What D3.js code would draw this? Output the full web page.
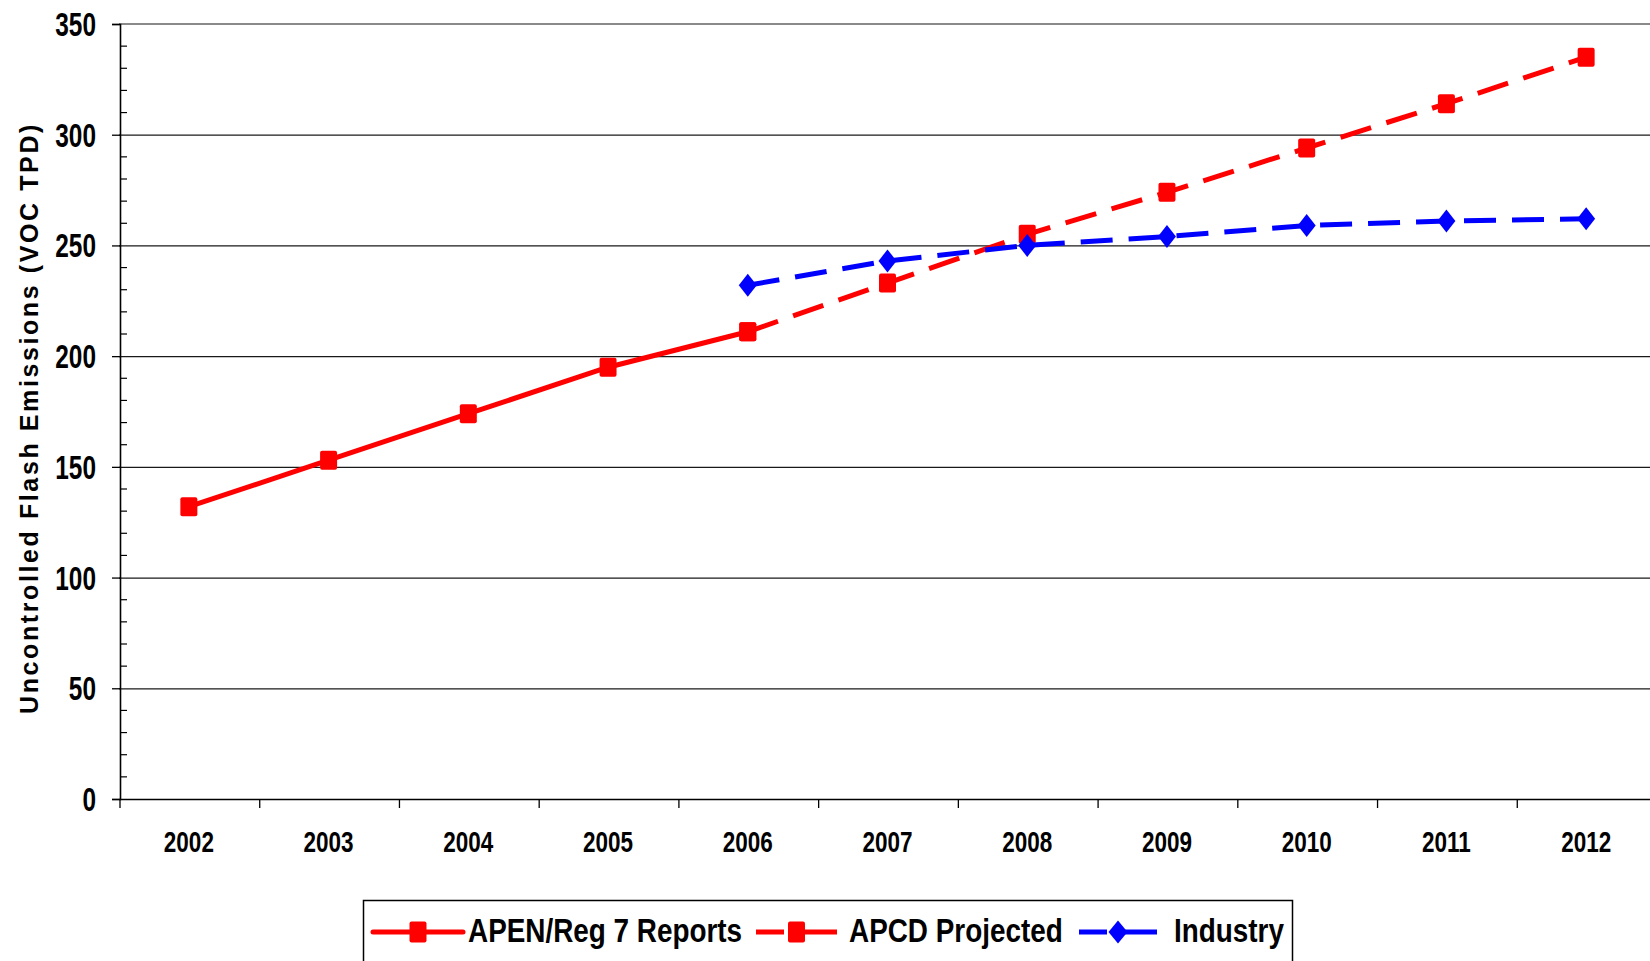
<!DOCTYPE html>
<html>
<head>
<meta charset="utf-8">
<script src="https://cdn.jsdelivr.net/npm/d3@7"></script>
<style>
  html, body { margin: 0; padding: 0; background: #fff; }
  svg { display: block; }
</style>
</head>
<body>
<div id="chart"></div>
<script>
// Data
const years = ["2002", "2003", "2004", "2005", "2006", "2007", "2008", "2009", "2010", "2011", "2012"];
const apenReports = [132, 153, 174, 195, 211, null, null, null, null, null, null];
const apcdProjected = [null, null, null, null, 211, 233, 255, 274, 294, 314, 335];
const industry = [null, null, null, null, 232, 243, 250, 254, 259, 261, 262];
const yTicks = [0, 50, 100, 150, 200, 250, 300, 350];

const legendItems = [
  { name: "APEN/Reg 7 Reports", color: "#ff0000", dash: null, marker: "square" },
  { name: "APCD Projected", color: "#ff0000", dash: "28 9 50", marker: "square" },
  { name: "Industry", color: "#0000ff", dash: "28 9 50", marker: "diamond" }
];

// Dimensions
const width = 1650;
const height = 961;
const plot = { left: 119, top: 24, bottom: 799, right: 1656 };

const font = "'Liberation Sans', Arial, sans-serif";

// Scales
const x = d3.scaleBand().domain(years).range([plot.left, plot.right]);
const y = d3.scaleLinear().domain([0, 350]).range([plot.bottom, plot.top]);
const cx = (yr) => x(yr) + x.bandwidth() / 2;

const svg = d3
  .select("#chart")
  .append("svg")
  .attr("width", width)
  .attr("height", height);

// squeezed bold text, stands in for the narrow face used in the original
function narrowText(g, tx, ty, str, size, sx, anchor) {
  return g
    .append("text")
    .attr("transform", `translate(${tx},${ty}) scale(${sx},1)`)
    .attr("text-anchor", anchor || "start")
    .style("font-family", font)
    .style("font-weight", "bold")
    .style("font-size", size + "px")
    .text(str);
}

// Horizontal gridlines
svg
  .append("g")
  .selectAll("line")
  .data(yTicks.filter((d) => d > 0 && d < 350))
  .enter()
  .append("line")
  .attr("x1", plot.left)
  .attr("x2", width)
  .attr("y1", (d) => y(d) + 0.5)
  .attr("y2", (d) => y(d) + 0.5)
  .attr("stroke", "#1a1a1a")
  .attr("stroke-width", 1.2);

// top border of plot area
svg
  .append("line")
  .attr("x1", plot.left)
  .attr("x2", width)
  .attr("y1", y(350))
  .attr("y2", y(350))
  .attr("stroke", "#8a8a8a")
  .attr("stroke-width", 2.2);

// Y axis: major ticks outside, minor ticks inside
const yAxis = svg
  .append("g")
  .attr("transform", `translate(${plot.left + 1},0)`)
  .call(d3.axisLeft(y).tickValues(yTicks).tickSize(8).tickFormat(""));
yAxis.select(".domain").attr("stroke", "#000").attr("stroke-width", 1.6);
yAxis.selectAll(".tick line").attr("stroke", "#000").attr("stroke-width", 1.3);

const minor = d3.range(0, 351, 10).filter((d) => d % 50 !== 0);
svg
  .append("g")
  .selectAll("line")
  .data(minor)
  .enter()
  .append("line")
  .attr("x1", plot.left + 1)
  .attr("x2", plot.left + 8)
  .attr("y1", (d) => y(d))
  .attr("y2", (d) => y(d))
  .attr("stroke", "#000")
  .attr("stroke-width", 1.2);

const yLabels = svg.append("g");
yTicks.forEach((d) => {
  narrowText(yLabels, 96, y(d) + 12, d, 33, 0.74, "end");
});

// X axis with ticks between categories
const xAxis = svg
  .append("g")
  .attr("transform", `translate(0,${plot.bottom})`)
  .call(d3.axisBottom(x).tickSize(0).tickFormat(""));
xAxis.select(".domain").attr("stroke", "#000").attr("stroke-width", 1.6);

svg
  .append("g")
  .selectAll("line")
  .data(years.concat(["end"]))
  .enter()
  .append("line")
  .attr("x1", (d, i) => (i < years.length ? x(d) : x.range()[1]) + 1)
  .attr("x2", (d, i) => (i < years.length ? x(d) : x.range()[1]) + 1)
  .attr("y1", plot.bottom)
  .attr("y2", plot.bottom + 9)
  .attr("stroke", "#000")
  .attr("stroke-width", 1.3);

const xLabels = svg.append("g");
years.forEach((d) => {
  narrowText(xLabels, cx(d), 852, d, 30, 0.75, "middle");
});

// Y axis title
svg
  .append("text")
  .attr("transform", `translate(38,418) rotate(-90)`)
  .attr("text-anchor", "middle")
  .style("font-family", font)
  .style("font-weight", "bold")
  .style("font-size", "25px")
  .style("letter-spacing", "2.6px")
  .text("Uncontrolled Flash Emissions (VOC TPD)");

// Series
const series = [
  { values: apenReports, color: "#ff0000", dash: null, marker: "square" },
  { values: apcdProjected, color: "#ff0000", dash: "32 16", marker: "square" },
  { values: industry, color: "#0000ff", dash: "32 16", marker: "diamond" }
];

const line = d3
  .line()
  .defined((d) => d.v != null)
  .x((d) => cx(d.year))
  .y((d) => y(d.v));

function drawMarker(g, kind, px, py, color, w, h) {
  if (kind === "square") {
    g.append("rect")
      .attr("x", px - w / 2)
      .attr("y", py - h / 2)
      .attr("width", w)
      .attr("height", h)
      .attr("rx", 2)
      .attr("fill", color);
  } else {
    g.append("path")
      .attr("d", `M${px},${py - h / 2}L${px + w / 2},${py}L${px},${py + h / 2}L${px - w / 2},${py}Z`)
      .attr("fill", color);
  }
}

series.forEach((s) => {
  const pts = years.map((yr, i) => ({ year: yr, v: s.values[i] }));
  const g = svg.append("g");
  g.append("path")
    .datum(pts)
    .attr("d", line)
    .attr("fill", "none")
    .attr("stroke", s.color)
    .attr("stroke-width", 5)
    .attr("stroke-dasharray", s.dash);
  pts
    .filter((d) => d.v != null)
    .forEach((d) => drawMarker(g, s.marker, cx(d.year), y(d.v), s.color, s.marker === "square" ? 17 : 18, s.marker === "square" ? 19 : 23));
});

// Legend
const legend = svg.append("g");
legend
  .append("rect")
  .attr("x", 363.5)
  .attr("y", 900.5)
  .attr("width", 929)
  .attr("height", 80)
  .attr("fill", "#fff")
  .attr("stroke", "#000")
  .attr("stroke-width", 1.5);

const legendPos = [
  { x1: 373, x2: 463, tx: 468 },
  { x1: 756, x2: 837, tx: 849 },
  { x1: 1079, x2: 1157, tx: 1174 }
];

legendItems.forEach((d, i) => {
  const p = legendPos[i];
  const ly = 932;
  legend
    .append("line")
    .attr("x1", p.x1)
    .attr("x2", p.x2)
    .attr("y1", ly)
    .attr("y2", ly)
    .attr("stroke", d.color)
    .attr("stroke-width", 5)
    .attr("stroke-linecap", d.dash ? "butt" : "round")
    .attr("stroke-dasharray", d.dash);
  drawMarker(legend, d.marker, (p.x1 + p.x2) / 2, ly, d.color, d.marker === "square" ? 17 : 19, d.marker === "square" ? 21 : 23);
  narrowText(legend, p.tx, 941.5, d.name, 34, 0.82);
});
</script>
</body>
</html>
